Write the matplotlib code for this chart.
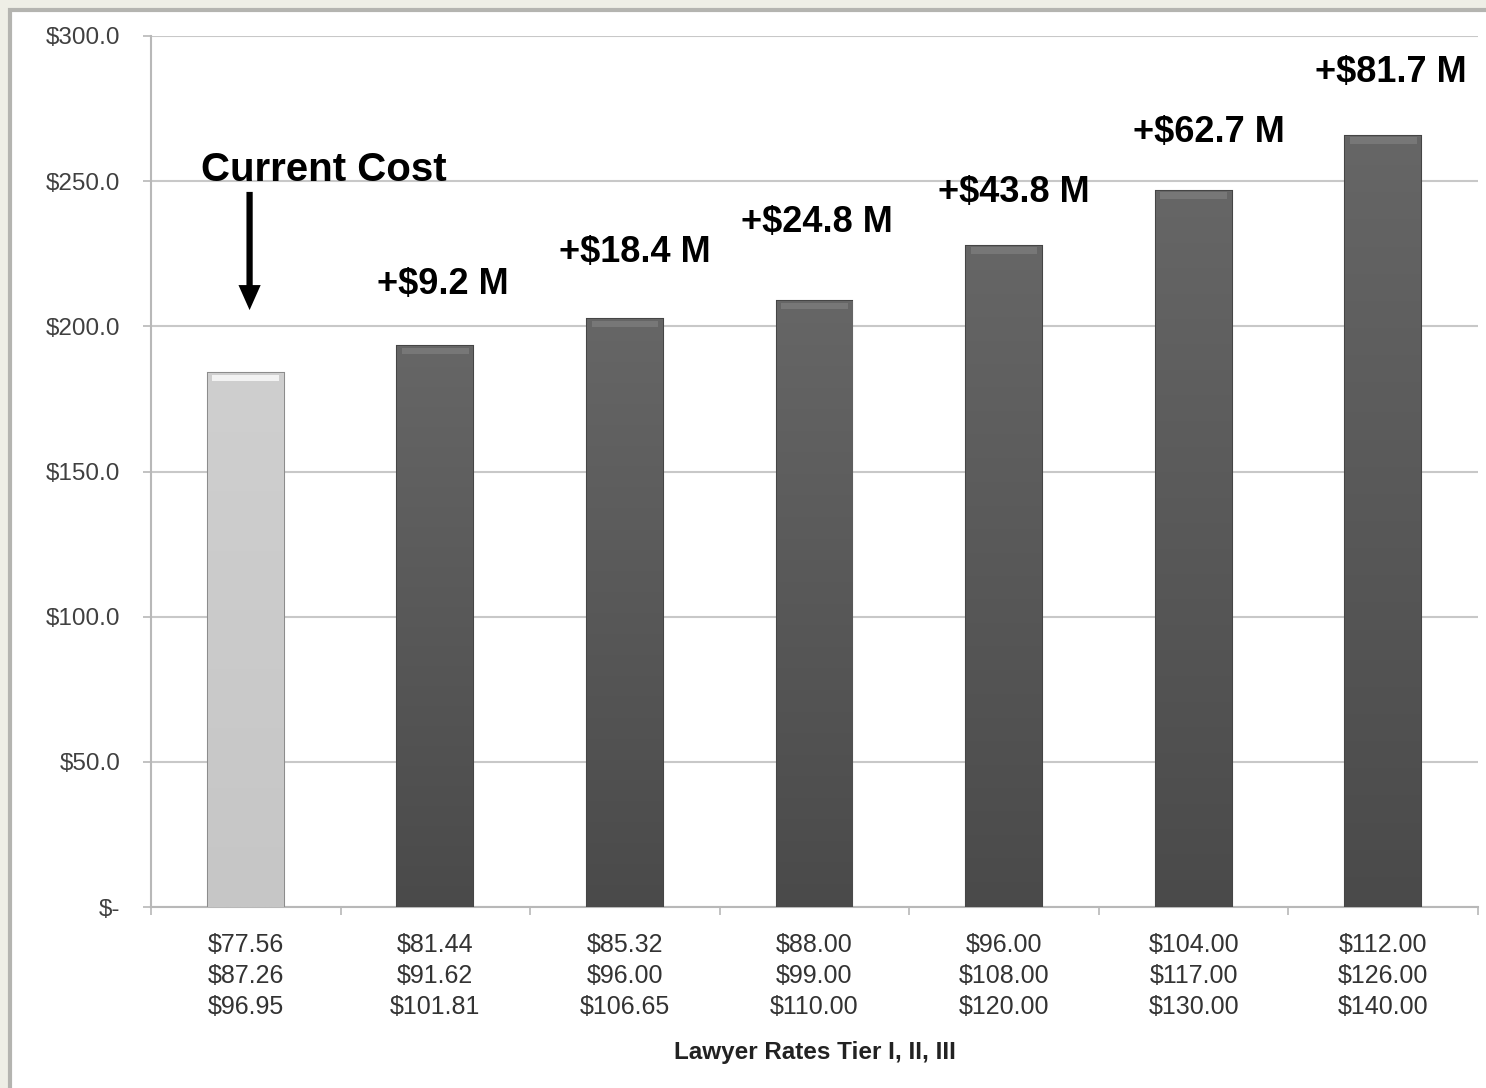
import numpy as np
import matplotlib
matplotlib.use("Agg")
import matplotlib.pyplot as plt
from matplotlib.patches import Rectangle

plt.rcParams['font.family'] = ['Liberation Sans', 'DejaVu Sans']

# data
tier_labels = [
    "$77.56\n$87.26\n$96.95",
    "$81.44\n$91.62\n$101.81",
    "$85.32\n$96.00\n$106.65",
    "$88.00\n$99.00\n$110.00",
    "$96.00\n$108.00\n$120.00",
    "$104.00\n$117.00\n$130.00",
    "$112.00\n$126.00\n$140.00",
]
costs = [184.0, 193.2, 202.4, 208.8, 227.8, 246.7, 265.7]
increases = [None, "+$9.2 M", "+$18.4 M", "+$24.8 M", "+$43.8 M", "+$62.7 M", "+$81.7 M"]
y_ticks = [0, 50, 100, 150, 200, 250, 300]

# layout for the increase labels (x offset, y in data units)
label_dx = [0, 0.04, 0.05, 0.01, 0.05, 0.08, 0.04]
label_y = [0, 214.3, 225.3, 235.6, 246.0, 266.6, 287.6]

fig = plt.figure(figsize=(14.86, 10.88), dpi=100)
fig.patch.set_facecolor('#eeeee6')

# white panel with a grey border, behind everything
bg = fig.add_axes([0, 0, 1, 1], zorder=-5)
bg.set_axis_off()
bg.set_xlim(0, 1486)
bg.set_ylim(1088, 0)
bg.add_patch(Rectangle((10, 10), 1500, 1100, facecolor='white',
                       edgecolor='#b4b4b0', linewidth=3))

ax = fig.add_axes([151 / 1486, 1 - 907 / 1088, (1478 - 151) / 1486, (907 - 36) / 1088])
ax.set_facecolor('none')

x = np.arange(len(costs))
bar_colors = ['#cbcbcb'] + ['#5c5c5c'] * (len(costs) - 1)
edge_colors = ['#8c8c8c'] + ['#454545'] * (len(costs) - 1)
bars = ax.bar(x, costs, width=0.4, color=bar_colors, edgecolor=edge_colors,
              linewidth=1.5, zorder=3)

# vertical gradient inside each bar
for i, b in enumerate(bars):
    if i == 0:
        cmap = matplotlib.colors.LinearSegmentedColormap.from_list('l', ['#c6c6c6', '#cfcfcf'])
    else:
        cmap = matplotlib.colors.LinearSegmentedColormap.from_list('d', ['#4a4a4a', '#666666'])
    grad = np.linspace(0, 1, 256).reshape(-1, 1)
    x0, w, h = b.get_x(), b.get_width(), b.get_height()
    im = ax.imshow(grad, cmap=cmap, origin='lower', aspect='auto',
                   extent=[x0, x0 + w, 0, h], zorder=3.5)
    im.set_clip_path(b)
    # soft highlight at the top edge
    ax.add_patch(Rectangle((x0 + w * 0.06, h - 2.8), w * 0.88, 2.2,
                           facecolor='white', alpha=0.12 if i else 0.75,
                           edgecolor='none', zorder=4))

ax.set_xlim(-0.5, len(costs) - 0.5)
ax.set_ylim(0, 300)
ax.set_yticks(y_ticks)
ax.set_yticklabels(["$-" if v == 0 else f"${v:.1f}" for v in y_ticks])
ax.set_xticks(x)
ax.set_xticklabels(tier_labels, linespacing=1.35)
ax.set_xticks(np.arange(-0.5, len(costs)), minor=True)
ax.tick_params(axis='x', which='major', length=0, pad=19, labelsize=18, colors='#333333')
ax.tick_params(axis='x', which='minor', length=6, color='#b8b8b8', width=1.2)
ax.tick_params(axis='y', length=6, color='#b8b8b8', width=1.2, pad=16,
               labelsize=17.5, labelcolor='#404040')

ax.grid(axis='y', color='#c8c8c8', linewidth=1.5, zorder=0)
for s in ['top', 'right']:
    ax.spines[s].set_visible(False)
for s in ['left', 'bottom']:
    ax.spines[s].set_color('#b8b8b8')
    ax.spines[s].set_linewidth(1.5)

ax.set_xlabel("Lawyer Rates Tier I, II, III", fontsize=17.5, fontweight='bold',
              color='#222222', labelpad=16)

for i, txt in enumerate(increases):
    if txt:
        ax.text(i + label_dx[i], label_y[i], txt, ha='center', va='center',
                fontsize=26, fontweight='bold', color='black', zorder=6)

ax.text(0.41, 254.0, "Current Cost", ha='center', va='center', fontsize=29,
        fontweight='bold', color='black', zorder=6)
ax.annotate("", xy=(0.02, 205.6), xytext=(0.02, 246.3),
            arrowprops=dict(facecolor='black', edgecolor='none', width=4.5,
                            headwidth=16, headlength=18, shrink=0), zorder=6)

fig.savefig("out.png", dpi=100, facecolor=fig.get_facecolor())
